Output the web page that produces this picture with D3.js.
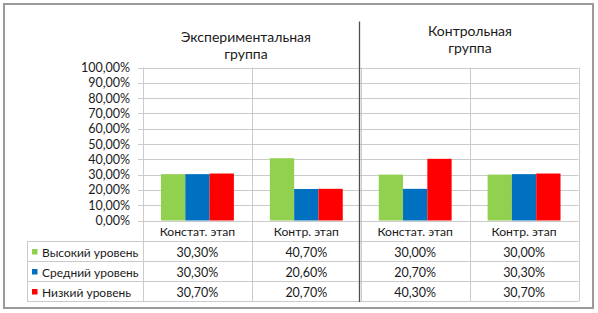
<!DOCTYPE html>
<html><head><meta charset="utf-8">
<script src="https://cdn.jsdelivr.net/npm/d3@7"></script>
<style>body{margin:0;background:#fff}svg{display:block}text{font-family:Lato,"Noto Sans",sans-serif;fill:#1a1a1a}</style>
</head><body>
<script>
const categories = ["Констат. этап","Контр. этап","Констат. этап","Контр. этап"];
const groupTitles = [["Экспериментальная","группа"],["Контрольная","группа"]];
const seriesNames = ["Высокий уровень","Средний уровень","Низкий уровень"];
const seriesColors = ["#92d050","#0070c0","#ff0000"];
const high = [30.3, 40.7, 30.0, 30.0];
const mid  = [30.3, 20.6, 20.7, 30.3];
const low  = [30.7, 20.7, 40.3, 30.7];
const yTicks = [0,10,20,30,40,50,60,70,80,90,100];
const series = [high, mid, low];

const W=598,H=313;
const svg=d3.select("body").append("svg").attr("width",W).attr("height",H);
svg.append("rect").attr("x",4).attr("y",4).attr("width",589).attr("height",304)
  .attr("fill","#fff").attr("stroke","#9a9a9a").attr("stroke-width",2);

const px0=143, px1=578.5, yTop=67.5, yZero=220.5;
const legX=27;
const rowY=[220.5,241.5,261.5,281.5,301.5];
const x=d3.scaleBand().domain(d3.range(categories.length)).range([px0,px1]).padding(0);
const xi=d3.scaleBand().domain(d3.range(series.length)).range([0,x.bandwidth()]).paddingInner(0).paddingOuter(0.74);
const y=d3.scaleLinear().domain([0,100]).range([yZero,yTop]);
const grid="#cbcbcb";

svg.append("g").selectAll("line").data(yTicks).join("line")
  .attr("x1",px0-5).attr("x2",px1).attr("y1",d=>Math.round(y(d))+0.5).attr("y2",d=>Math.round(y(d))+0.5)
  .attr("stroke",grid);
const fmt=v=>d3.format(".2f")(v).replace(".",",")+"%";
svg.append("g").selectAll("text").data(yTicks).join("text")
  .attr("x",130).attr("y",d=>y(d)+4.5).attr("text-anchor","end").attr("font-size",12.5).text(d=>fmt(d));

const vx=d3.range(categories.length+1).map(i=>i<categories.length?x(i):px1);
svg.append("g").selectAll("line").data(vx).join("line")
  .attr("x1",d=>Math.round(d)+0.5).attr("x2",d=>Math.round(d)+0.5)
  .attr("y1",yTop).attr("y2",rowY[4]).attr("stroke",grid);
svg.append("g").selectAll("line").data(rowY.slice(1)).join("line")
  .attr("x1",legX).attr("x2",px1).attr("y1",d=>d).attr("y2",d=>d).attr("stroke",grid);
svg.append("line").attr("x1",legX+0.5).attr("x2",legX+0.5).attr("y1",rowY[1]).attr("y2",rowY[4]).attr("stroke",grid);

series.forEach((s,si)=>{
  svg.append("g").selectAll("rect").data(s).join("rect")
    .attr("x",(d,i)=>x(i)+xi(si)).attr("width",xi.bandwidth())
    .attr("y",d=>y(d)).attr("height",d=>yZero-y(d)).attr("fill",seriesColors[si]);
});

svg.append("line").attr("x1",359.5).attr("x2",359.5).attr("y1",21.5).attr("y2",rowY[4]+0.5)
  .attr("stroke","#505050").attr("stroke-width",1.3);

const titlePos=[{cx:246,b:[41.5,58.5]},{cx:470,b:[36,53]}];
groupTitles.forEach((t,gi)=>{
  t.forEach((ln,li)=>svg.append("text").attr("x",titlePos[gi].cx).attr("y",titlePos[gi].b[li])
    .attr("text-anchor","middle").attr("font-size",14).text(ln));
});

svg.append("g").selectAll("text").data(categories).join("text")
  .attr("x",(d,i)=>x(i)+x.bandwidth()/2).attr("y",rowY[0]+15).attr("text-anchor","middle")
  .attr("font-size",12.2).text(d=>d);

series.forEach((s,si)=>{
  const yb=rowY[si+1];
  svg.append("rect").attr("x",32).attr("y",yb+7.5).attr("width",5.5).attr("height",5.5).attr("fill",seriesColors[si]);
  svg.append("text").attr("x",42).attr("y",yb+15).attr("font-size",12).text(seriesNames[si]);
  svg.append("g").selectAll("text").data(s).join("text")
    .attr("x",(d,i)=>x(i)+x.bandwidth()/2).attr("y",yb+15).attr("text-anchor","middle")
    .attr("font-size",12.5).text(d=>fmt(d));
});
</script>
</body></html>
